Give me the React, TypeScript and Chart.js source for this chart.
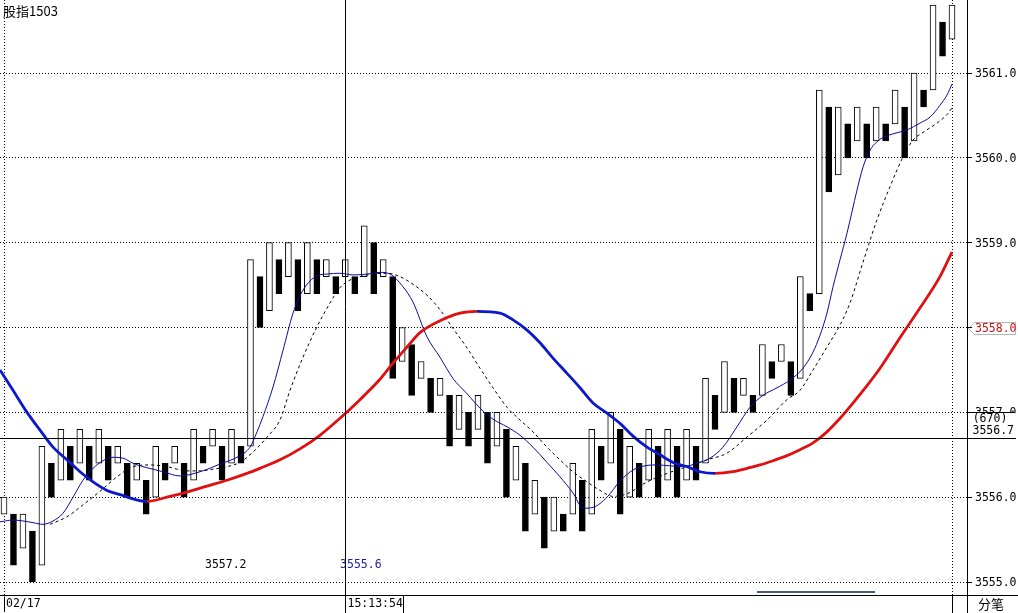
import React, { useEffect, useRef } from "react";
import { Chart, registerables } from "chart.js";

Chart.register(...registerables);

// ---------- text ----------
const title = "股指1503";
const dateLabel = "02/17";
const cursorTimeLabel = "15:13:54";
const cursorVolumeLabel = "(670)";
const footerLabel = "分笔";
const noteLeft = "3557.2";
const noteRight = "3555.6";

// ---------- cursor / ticks ----------
const cursorIndex = 36;
const cursorPrice = 3556.7;
const highlightTick = 3558;
const yTicks = [3555, 3556, 3557, 3558, 3559, 3560, 3561];
const xGridIdx = [0, 100];

// ---------- bars (open / close per bar) ----------
const opens = [
  3555.8, 3555.8, 3555.4, 3555.6, 3555.2, 3556.4, 3556.2, 3556.6, 3556.4, 3556.6,
  3556.4, 3556.6, 3556.4, 3556.4, 3556.2, 3556.2, 3556.0, 3556.4, 3556.4, 3556.4,
  3556.2, 3556.6, 3556.6, 3556.6, 3556.4, 3556.6, 3556.6, 3558.6, 3558.2, 3558.8,
  3558.6, 3558.8, 3558.4, 3558.8, 3558.6, 3558.6, 3558.6, 3558.6, 3558.6, 3559.0,
  3558.6, 3558.6, 3557.6, 3557.8, 3557.4, 3557.4, 3557.2, 3557.2, 3556.8, 3557.0,
  3556.8, 3557.0, 3556.6, 3556.8, 3556.2, 3556.4, 3555.8, 3556.0, 3555.6, 3555.8,
  3555.8, 3556.2, 3555.8, 3556.6, 3556.4, 3556.8, 3556.0, 3556.4, 3556.2, 3556.6,
  3556.2, 3556.6, 3556.2, 3556.6, 3556.4, 3557.2, 3557.0, 3557.4, 3557.2, 3557.2,
  3557.2, 3557.6, 3557.6, 3557.6, 3557.4, 3558.4, 3558.4, 3560.6, 3559.8, 3560.4,
  3560.2, 3560.4, 3560.2, 3560.4, 3560.4, 3560.6, 3560.2, 3560.8, 3560.8, 3561.6,
  3561.4,
];
const closes = [
  3556.0, 3555.2, 3555.8, 3555.0, 3556.6, 3556.0, 3556.8, 3556.2, 3556.8, 3556.2,
  3556.8, 3556.2, 3556.6, 3556.0, 3556.4, 3555.8, 3556.6, 3556.2, 3556.6, 3556.0,
  3556.8, 3556.4, 3556.8, 3556.2, 3556.8, 3556.4, 3558.8, 3558.0, 3559.0, 3558.4,
  3559.0, 3558.2, 3559.0, 3558.4, 3558.8, 3558.4, 3558.8, 3558.4, 3559.2, 3558.4,
  3558.8, 3557.4, 3558.0, 3557.2, 3557.6, 3557.0, 3557.4, 3556.6, 3557.2, 3556.6,
  3557.2, 3556.4, 3557.0, 3556.0, 3556.6, 3555.6, 3556.2, 3555.4, 3556.0, 3555.6,
  3556.4, 3555.6, 3556.8, 3556.2, 3557.0, 3555.8, 3556.6, 3556.0, 3556.8, 3556.0,
  3556.8, 3556.0, 3556.8, 3556.2, 3557.4, 3556.8, 3557.6, 3557.0, 3557.4, 3557.0,
  3557.8, 3557.4, 3557.8, 3557.2, 3558.6, 3558.2, 3560.8, 3559.6, 3560.6, 3560.0,
  3560.6, 3560.0, 3560.6, 3560.2, 3560.8, 3560.0, 3561.0, 3560.6, 3561.8, 3561.2,
  3561.8,
];

// ---------- moving-average lines: [bar index, value] ----------
const maShort: [number, number][] = [
  [-0.42, 3555.71], [0.95, 3555.73], [2.0, 3555.72], [3.06, 3555.7], [4.11, 3555.68],
  [5.17, 3555.72], [6.22, 3555.81], [7.28, 3556.0], [8.33, 3556.2], [9.39, 3556.34],
  [10.44, 3556.43], [11.5, 3556.47], [12.55, 3556.46], [13.61, 3556.4], [14.66, 3556.36],
  [15.72, 3556.33], [16.77, 3556.3], [18.57, 3556.25], [20.68, 3556.3], [22.78, 3556.39],
  [24.89, 3556.49], [25.95, 3556.59], [26.69, 3556.77], [27.32, 3556.95], [28.38, 3557.3],
  [29.43, 3557.73], [30.49, 3558.17], [31.54, 3558.44], [33.02, 3558.61], [34.07, 3558.63],
  [35.44, 3558.64], [36.81, 3558.62], [38.29, 3558.63], [39.66, 3558.65], [40.72, 3558.63],
  [42.09, 3558.48], [43.14, 3558.3], [44.62, 3557.89], [45.99, 3557.65], [47.36, 3557.4],
  [48.84, 3557.22], [50.21, 3557.05], [51.58, 3556.92], [53.06, 3556.83], [54.43, 3556.73],
  [55.8, 3556.59], [57.28, 3556.41], [58.65, 3556.24], [60.02, 3556.05], [61.08, 3555.87],
  [62.13, 3555.88], [63.61, 3556.0], [64.98, 3556.19], [66.35, 3556.32], [67.62, 3556.37],
  [68.88, 3556.38], [70.25, 3556.37], [71.62, 3556.36], [73.1, 3556.4], [74.47, 3556.46],
  [75.84, 3556.59], [77.32, 3556.83], [78.69, 3557.06], [80.06, 3557.2], [81.54, 3557.29],
  [82.91, 3557.38], [84.28, 3557.52], [85.34, 3557.71], [86.08, 3557.91], [86.81, 3558.17],
  [87.45, 3558.48], [88.19, 3558.8], [88.92, 3559.11], [89.98, 3559.62], [90.61, 3559.89],
  [91.35, 3560.09], [92.09, 3560.19], [92.93, 3560.25], [93.99, 3560.29], [95.25, 3560.33],
  [96.62, 3560.41], [97.68, 3560.48], [98.73, 3560.62], [99.47, 3560.74], [100.0, 3560.87],
];

const maMid: [number, number][] = [
  [4.85, 3555.68], [6.65, 3555.77], [8.33, 3555.91], [10.13, 3556.07], [11.92, 3556.24],
  [13.61, 3556.36], [15.4, 3556.38], [17.19, 3556.36], [19.3, 3556.31], [20.68, 3556.31],
  [22.05, 3556.33], [23.52, 3556.36], [24.89, 3556.41], [25.95, 3556.5], [26.79, 3556.59],
  [27.85, 3556.72], [29.11, 3556.91], [30.17, 3557.26], [31.54, 3557.65], [33.02, 3558.01],
  [34.39, 3558.29], [35.44, 3558.47], [36.5, 3558.56], [37.55, 3558.6], [38.92, 3558.63],
  [40.4, 3558.64], [41.77, 3558.6], [43.14, 3558.51], [44.73, 3558.37], [45.99, 3558.21],
  [47.36, 3557.99], [48.84, 3557.76], [50.21, 3557.52], [51.58, 3557.29], [53.06, 3557.06],
  [54.43, 3556.91], [55.8, 3556.77], [57.28, 3556.59], [58.65, 3556.44], [60.02, 3556.3],
  [61.5, 3556.18], [62.87, 3556.08], [64.24, 3556.01], [65.72, 3556.04], [67.83, 3556.18],
  [69.94, 3556.28], [72.05, 3556.36], [74.16, 3556.44], [76.27, 3556.52], [78.38, 3556.71],
  [80.49, 3556.91], [82.59, 3557.15], [83.97, 3557.26], [85.34, 3557.5], [86.81, 3557.77],
  [88.19, 3558.03], [89.24, 3558.29], [90.61, 3558.77], [92.09, 3559.27], [93.46, 3559.66],
  [94.83, 3560.01], [95.89, 3560.21], [96.94, 3560.3], [98.42, 3560.41], [99.47, 3560.51],
  [100.0, 3560.59],
];

const maLong: [number, number][] = [
  [-0.42, 3557.5], [0.95, 3557.26], [2.43, 3557.0], [3.8, 3556.79], [5.17, 3556.59],
  [6.65, 3556.44], [8.02, 3556.3], [9.39, 3556.18], [10.86, 3556.08], [12.24, 3556.03],
  [13.61, 3555.98], [15.08, 3555.95], [17.19, 3556.0], [19.3, 3556.06], [21.41, 3556.13],
  [23.52, 3556.2], [25.63, 3556.28], [27.0, 3556.34], [29.11, 3556.44], [31.22, 3556.57],
  [33.33, 3556.73], [35.44, 3556.93], [37.55, 3557.15], [39.66, 3557.39], [41.03, 3557.58],
  [42.51, 3557.77], [43.88, 3557.94], [45.99, 3558.08], [48.1, 3558.17], [49.89, 3558.19],
  [52.32, 3558.17], [53.69, 3558.09], [55.17, 3557.97], [56.54, 3557.82], [57.91, 3557.64],
  [59.39, 3557.46], [60.76, 3557.29], [62.13, 3557.11], [63.61, 3556.99], [64.98, 3556.87],
  [66.35, 3556.72], [67.83, 3556.59], [69.2, 3556.5], [70.57, 3556.41], [72.05, 3556.36],
  [73.42, 3556.3], [75.0, 3556.28], [76.9, 3556.3], [78.38, 3556.34], [79.75, 3556.38],
  [81.12, 3556.43], [82.59, 3556.49], [83.97, 3556.56], [85.34, 3556.64], [86.81, 3556.77],
  [88.19, 3556.93], [89.56, 3557.11], [90.93, 3557.3], [92.41, 3557.52], [94.51, 3557.88],
  [96.62, 3558.23], [98.73, 3558.6], [100.0, 3558.89],
];

// annotation anchors (bar index, price)
const noteLeftAt: [number, number] = [21.2, 3555.2];
const noteRightAt: [number, number] = [35.45, 3555.2];

const MONO = "'DejaVu Sans Mono', 'Liberation Mono', monospace";
const CJK = "'Noto Sans CJK SC', 'Noto Sans', sans-serif";
const RED = "#e01010";
const BLUE = "#0c18cc";

const overlayPlugin = {
  id: "overlay",
  beforeDraw(chart: any) {
    const { ctx } = chart;
    const ys = chart.scales.y;
    const py = Math.round(ys.getPixelForValue(highlightTick)) + 0.5;
    const left = Math.round(chart.chartArea.right) + 1.5;
    ctx.save();
    ctx.strokeStyle = "#b4b4b4";
    ctx.fillStyle = "#ffffff";
    ctx.lineWidth = 1;
    ctx.beginPath();
    ctx.moveTo(left, py);
    ctx.lineTo(left + 6, py - 6);
    ctx.lineTo(1015.5, py - 6);
    ctx.lineTo(1015.5, py + 6);
    ctx.lineTo(left + 6, py + 6);
    ctx.closePath();
    ctx.fill();
    ctx.stroke();
    ctx.restore();
  },
  afterDraw(chart: any) {
    const { ctx } = chart;
    const xs = chart.scales.x;
    const ys = chart.scales.y;
    const W = chart.width;
    const H = chart.height;
    const area = chart.chartArea;
    const right = Math.round(area.right) + 0.5;
    const bottom = Math.round(area.bottom) + 0.5;
    const line = (x1: number, y1: number, x2: number, y2: number) => {
      ctx.beginPath();
      ctx.moveTo(x1, y1);
      ctx.lineTo(x2, y2);
      ctx.stroke();
    };
    ctx.save();
    ctx.lineWidth = 1;
    ctx.strokeStyle = "#000";

    // title
    ctx.fillStyle = "#000";
    ctx.font = `13px ${CJK}`;
    ctx.textBaseline = "middle";
    ctx.textAlign = "left";
    ctx.fillText(title, 3, 11);

    // bottom strip
    line(0, bottom, W, bottom);
    line(right, bottom, right, H);
    const lastX = Math.round(xs.getPixelForValue(xGridIdx[1])) + 0.5;
    line(lastX, bottom, lastX, H);
    const firstX = Math.round(xs.getPixelForValue(xGridIdx[0])) + 0.5;
    line(firstX, bottom + 1, firstX, H - 1);

    ctx.font = `11.5px ${MONO}`;
    ctx.fillText(dateLabel, firstX + 1.5, 604);
    ctx.font = `13px ${CJK}`;
    ctx.fillText(footerLabel, 978, 604);

    // scroll indicator
    ctx.save();
    ctx.strokeStyle = "#4e5a7a";
    ctx.lineWidth = 2;
    line(757, 592, 875, 592);
    ctx.restore();

    // notes
    ctx.font = `11.5px ${MONO}`;
    ctx.fillStyle = "#000";
    ctx.fillText(noteLeft, xs.getPixelForValue(noteLeftAt[0]), ys.getPixelForValue(noteLeftAt[1]));
    ctx.fillStyle = "#1c1ca0";
    ctx.fillText(noteRight, xs.getPixelForValue(noteRightAt[0]), ys.getPixelForValue(noteRightAt[1]));

    // crosshair
    const cx = Math.round(xs.getPixelForValue(cursorIndex)) + 0.5;
    const cy = Math.round(ys.getPixelForValue(cursorPrice)) + 0.5;
    ctx.strokeStyle = "#000";
    line(cx, 0, cx, H);
    line(0, cy, W - 2, cy);

    // time box
    ctx.fillStyle = "#000";
    ctx.font = `11.5px ${MONO}`;
    ctx.fillText(cursorTimeLabel, cx + 2, 604);
    line(cx + 58, bottom, cx + 58, H);

    // price box (covers the lower part of the 3557.0 label)
    ctx.fillStyle = "#fff";
    ctx.fillRect(right + 0.5, cy - 26.5, W - right - 3, 26);
    line(right, cy - 26, W - 3, cy - 26);
    ctx.fillStyle = "#000";
    ctx.textAlign = "center";
    ctx.fillText(cursorVolumeLabel, 990, cy - 19);
    ctx.textAlign = "left";
    ctx.fillText(cursorPrice.toFixed(1), right + 5, cy - 7);
    ctx.restore();
  },
};

export default function App() {
  const ref = useRef<HTMLCanvasElement | null>(null);

  useEffect(() => {
    const canvas = ref.current;
    if (!canvas) return;
    const barData = opens.map((o, i) => ({ x: i, y: [o, closes[i]] }));
    const barFill = opens.map((o, i) => (closes[i] >= o ? "#ffffff" : "#000000"));

    const chart = new Chart(canvas, {
      type: "bar",
      data: {
        datasets: [
          {
            type: "line",
            label: "maLong",
            data: maLong.map(([x, y]) => ({ x, y })),
            borderColor: RED,
            borderWidth: 2.8,
            pointRadius: 0,
            cubicInterpolationMode: "monotone",
            segment: {
              borderColor: (c: any) => (c.p1.parsed.y >= c.p0.parsed.y ? RED : BLUE),
            },
            order: 0,
          } as any,
          {
            type: "line",
            label: "maShort",
            data: maShort.map(([x, y]) => ({ x, y })),
            borderColor: "#0a0aa0",
            borderWidth: 1,
            pointRadius: 0,
            cubicInterpolationMode: "monotone",
            order: 1,
          } as any,
          {
            type: "line",
            label: "maMid",
            data: maMid.map(([x, y]) => ({ x, y })),
            borderColor: "#000000",
            borderWidth: 1,
            borderDash: [3, 3],
            pointRadius: 0,
            cubicInterpolationMode: "monotone",
            order: 2,
          } as any,
          {
            type: "bar",
            label: "bars",
            data: barData as any,
            backgroundColor: barFill,
            borderColor: "#000000",
            borderWidth: 1,
            borderSkipped: false,
            barThickness: 6,
            order: 10,
          } as any,
        ],
      },
      options: {
        responsive: false,
        animation: false,
        events: [],
        layout: { padding: 0 },
        plugins: {
          legend: { display: false },
          tooltip: { enabled: false },
          title: { display: false },
        },
        scales: {
          x: {
            type: "linear",
            position: "bottom",
            min: -0.422,
            max: 101.582,
            offset: false,
            grid: {
              offset: false,
              color: "#000",
              lineWidth: 1,
              drawTicks: false,
            },
            border: { display: true, color: "#000", width: 1, dash: [1, 2] },
            ticks: { display: false },
            afterBuildTicks: (s: any) => {
              s.ticks = xGridIdx.map((v) => ({ value: v }));
            },
            afterFit: (s: any) => {
              s.height = 18;
              s.paddingLeft = 0;
              s.paddingRight = 0;
              s.paddingTop = 0;
              s.paddingBottom = 0;
            },
          },
          y: {
            type: "linear",
            position: "right",
            min: 3554.847,
            max: 3561.861,
            grid: {
              color: "#000",
              lineWidth: 1,
              drawTicks: true,
              tickLength: 5,
              tickColor: "#000",
            },
            border: { display: true, color: "#000", width: 1, dash: [1, 2] },
            ticks: {
              padding: 3,
              labelOffset: 1,
              font: { family: MONO, size: 11.5 },
              color: (c: any) => (c.tick && c.tick.value === highlightTick ? "#cc1010" : "#000"),
              callback: (v: any) => Number(v).toFixed(1),
            },
            afterBuildTicks: (s: any) => {
              s.ticks = yTicks.map((v) => ({ value: v }));
            },
            afterFit: (s: any) => {
              s.width = 51;
              s.paddingTop = 0;
              s.paddingBottom = 0;
              s.paddingLeft = 0;
              s.paddingRight = 0;
            },
          },
        },
      } as any,
      plugins: [overlayPlugin],
    });
    return () => chart.destroy();
  }, []);

  return (
    <div style={{ position: "fixed", left: 0, top: 0, width: 1018, height: 613, background: "#fff" }}>
      <canvas ref={ref} width={1018} height={613} style={{ display: "block", width: 1018, height: 613 }} />
    </div>
  );
}
